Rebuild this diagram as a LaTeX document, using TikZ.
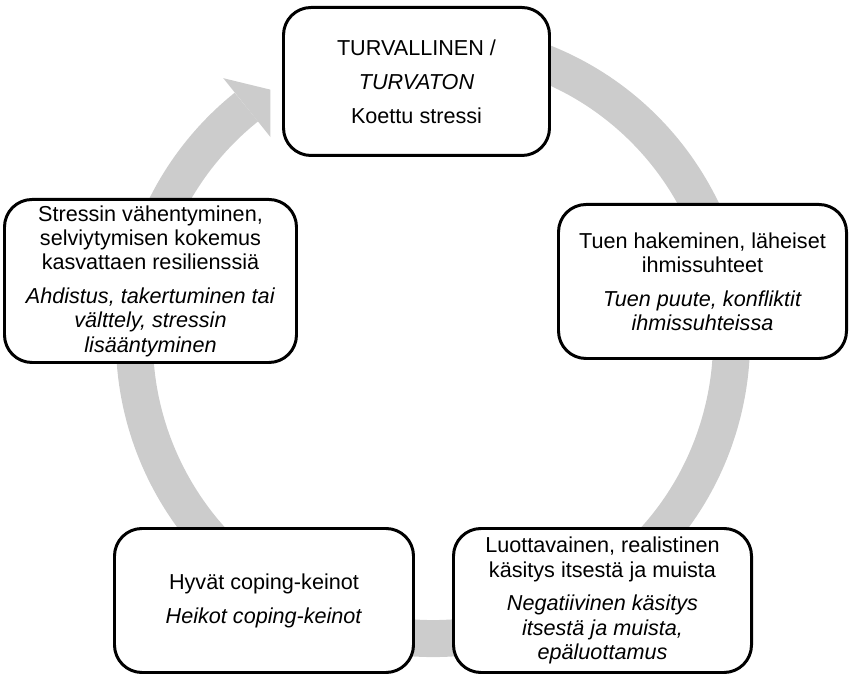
\documentclass[tikz,border=0pt]{standalone}
\usepackage{fontspec}
\setmainfont{Liberation Sans}
\begin{document}
\begin{tikzpicture}[
	stagebox/.style={draw, line width=1.7pt, rounded corners=0.55cm, fill=white,
		align=center, inner sep=0pt, font=\fontsize{12.3}{13.8}\selectfont},
	]
	\useasboundingbox (-8.66,-6.72) rectangle (8.32,6.8);

	% kehä
	\draw[black!20, line width=0.74cm] (75:5.97) arc[start angle=75, end angle=-231.3, radius=5.97];
	\fill[black!20] (128.7:6.71) -- (123:5.97) -- (128.7:5.2) -- cycle;

	% laatikot
	\node[stagebox, minimum width=5.32cm, minimum height=2.96cm] (turva) at (-0.33,5.17)
		{TURVALLINEN /\\[5.5pt] \textit{TURVATON}\\[5.5pt] Koettu stressi};
	\node[stagebox, minimum width=5.76cm, minimum height=3.08cm] (tuki) at (5.39,1.17)
		{Tuen hakeminen, läheiset\\ ihmissuhteet\\[5.5pt] \textit{Tuen puute, konfliktit}\\ \textit{ihmissuhteissa}};
	\node[stagebox, minimum width=5.96cm, minimum height=2.88cm] (kasitys) at (3.39,-5.21)
		{Luottavainen, realistinen\\ käsitys itsestä ja muista\\[5.5pt] \textit{Negatiivinen käsitys}\\ \textit{itsestä ja muista,}\\ \textit{epäluottamus}};
	\node[stagebox, minimum width=5.98cm, minimum height=2.88cm] (coping) at (-3.38,-5.21)
		{Hyvät coping-keinot\\[5.5pt] \textit{Heikot coping-keinot}};
	\node[stagebox, minimum width=5.84cm, minimum height=3.26cm] (stressi) at (-5.65,1.18)
		{Stressin vähentyminen,\\ selviytymisen kokemus\\ kasvattaen resilienssiä\\[5.5pt] \textit{Ahdistus, takertuminen tai}\\ \textit{välttely, stressin}\\ \textit{lisääntyminen}};

\end{tikzpicture}
\end{document}
